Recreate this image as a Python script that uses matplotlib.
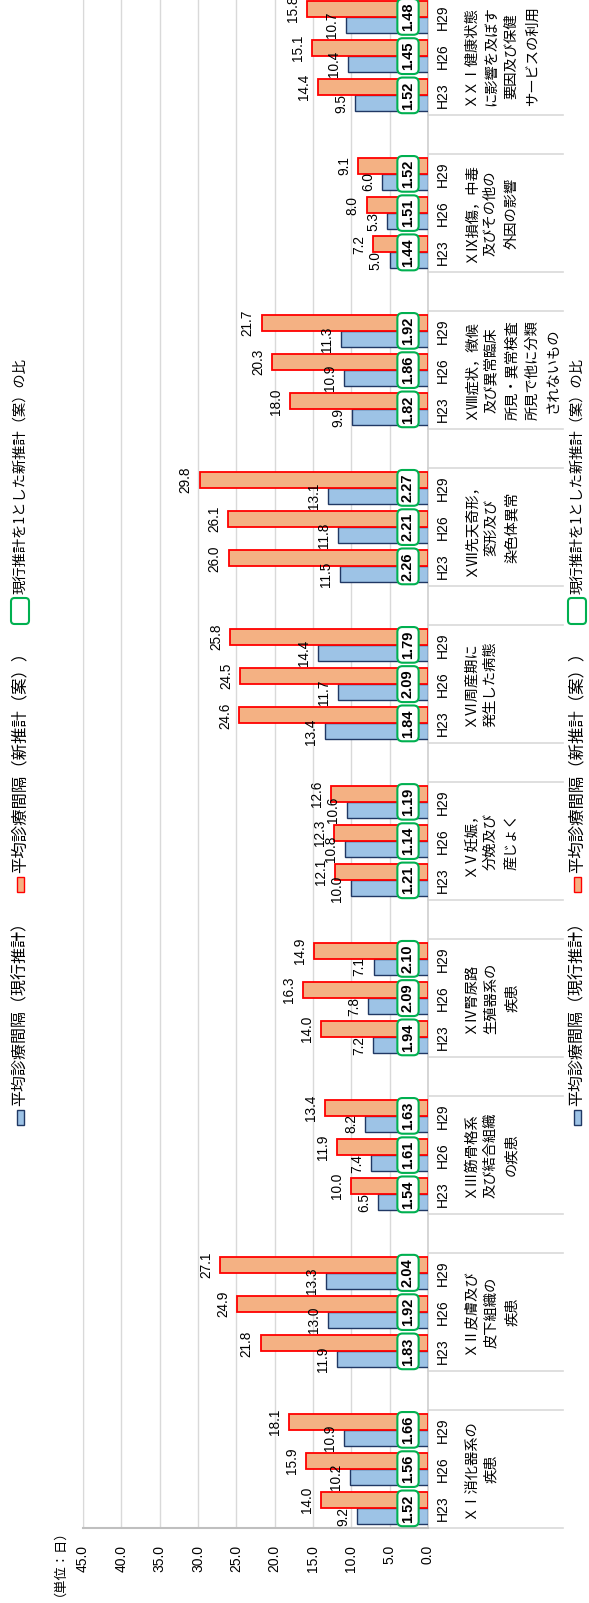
import numpy as np
import matplotlib
matplotlib.use('Agg')
from matplotlib import pyplot as plt
from matplotlib import transforms
from matplotlib.patches import Rectangle, FancyBboxPatch

plt.rcParams['font.family'] = ['Noto Sans CJK JP', 'DejaVu Sans']

# data: groups bottom -> top, years H23/H26/H29
groups = ['ＸⅠ消化器系の\n疾患',
          'ＸⅡ皮膚及び\n皮下組織の\n疾患',
          'ＸⅢ筋骨格系\n及び結合組織\nの疾患',
          'ＸⅣ腎尿路\n生殖器系の\n疾患',
          'ＸⅤ妊娠，\n分娩及び\n産じょく',
          'ＸⅥ周産期に\n発生した病態',
          'ＸⅦ先天奇形，\n変形及び\n染色体異常',
          'ＸⅧ症状，徴候\n及び異常臨床\n所見・異常検査\n所見で他に分類\nされないもの',
          'ＸⅨ損傷，中毒\n及びその他の\n外因の影響',
          'ＸＸⅠ健康状態\nに影響を及ぼす\n要因及び保健\nサービスの利用']
years = ['H23', 'H26', 'H29']
current = [[9.2, 10.2, 10.9], [11.9, 13.0, 13.3], [6.5, 7.4, 8.2], [7.2, 7.8, 7.1],
           [10.0, 10.8, 10.6], [13.4, 11.7, 14.4], [11.5, 11.8, 13.1], [9.9, 10.9, 11.3],
           [5.0, 5.3, 6.0], [9.5, 10.4, 10.7]]
new = [[14.0, 15.9, 18.1], [21.8, 24.9, 27.1], [10.0, 11.9, 13.4], [14.0, 16.3, 14.9],
       [12.1, 12.3, 12.6], [24.6, 24.5, 25.8], [26.0, 26.1, 29.8], [18.0, 20.3, 21.7],
       [7.2, 8.0, 9.1], [14.4, 15.1, 15.8]]
ratio = [[1.52, 1.56, 1.66], [1.83, 1.92, 2.04], [1.54, 1.61, 1.63], [1.94, 2.09, 2.10],
         [1.21, 1.14, 1.19], [1.84, 2.09, 1.79], [2.26, 2.21, 2.27], [1.82, 1.86, 1.92],
         [1.44, 1.51, 1.52], [1.52, 1.45, 1.48]]
legend_labels = ['平均診療間隔（現行推計）', '平均診療間隔（新推計（案））', '現行推計を1とした新推計（案）の比']
xticks = np.arange(0, 46, 5)

W, H = 589, 1603
def fx(px):
    return px / W
def fy(py):
    return 1 - py / H

BLUE, BLUE_E = '#9DC3E6', '#203864'
ORANGE, ORANGE_E = '#F4B183', '#FF0000'
GREEN = '#00B050'
GRID = '#D9D9D9'
NUMFONT = 'Liberation Sans'

fig = plt.figure(figsize=(W / 100, H / 100), dpi=100)
ax = fig.add_axes([fx(83), fy(1528), fx(428) - fx(83), 1528 / H])

# slot positions: 3 years per group plus one blank slot
pos = np.array([4 * g + k for g in range(len(groups)) for k in range(3)], dtype=float)
cur = np.array(current).ravel()
nw = np.array(new).ravel()
rt = np.array(ratio).ravel()

bh = 0.41
ax.barh(pos - bh / 2, cur, height=bh, color=BLUE, edgecolor=BLUE_E, lw=1.0, zorder=3)
ax.barh(pos + bh / 2, nw, height=bh, color=ORANGE, edgecolor=ORANGE_E, lw=1.3, zorder=3)

ax.set_xlim(45, 0)
ax.set_ylim(-0.5, -0.5 + 1528 / 39.25)
ax.set_xticks(xticks)
ax.set_xticklabels([f'{v:.1f}' for v in xticks], rotation=90, family=NUMFONT, fontsize=10)
ax.tick_params(axis='x', length=0, pad=12)
ax.set_yticks([])
ax.grid(axis='x', color=GRID, lw=1.0, zorder=0)
ax.spines['top'].set_visible(False)
ax.spines['left'].set_color(GRID)
ax.spines['right'].set_color('#D0D0D0')
ax.spines['right'].set_linewidth(1.2)
ax.spines['bottom'].set_color('#BFBFBF')
ax.spines['bottom'].set_linewidth(1.5)

# value labels
for p, v in zip(pos, cur):
    ax.annotate(f'{v:.1f}', xy=(v, p - bh / 2), xytext=(-14, 0), textcoords='offset pixels',
                rotation=90, ha='center', va='center', family=NUMFONT, fontsize=9.8, zorder=5)
for p, v in zip(pos, nw):
    ax.annotate(f'{v:.1f}', xy=(v, p + bh / 2), xytext=(-14, 0), textcoords='offset pixels',
                rotation=90, ha='center', va='center', family=NUMFONT, fontsize=9.8, zorder=5)
for p, r in zip(pos, rt):
    ax.annotate(f'{r:.2f}', xy=(0, p), xytext=(-20, 0), textcoords='offset pixels',
                rotation=90, ha='center', va='center', family=NUMFONT, fontsize=10.5,
                fontweight='bold', zorder=6,
                bbox=dict(boxstyle='round,pad=0.25,rounding_size=0.35', fc='white',
                          ec=GREEN, lw=1.5))

# category table on the right
trans = transforms.blended_transform_factory(fig.transFigure, ax.transData)
for g, name in enumerate(groups):
    for yy in (4 * g - 0.5, 4 * g + 2.5):
        ax.plot([fx(428), fx(563)], [yy, yy], transform=trans, color=GRID, lw=1.2,
                clip_on=False, zorder=1)
    for k, yr in enumerate(years):
        ax.text(fx(443), 4 * g + k, yr, transform=trans, rotation=90, ha='center',
                va='center', fontsize=10, family=NUMFONT)
    ax.text(fx(463), 4 * g + 1, name, transform=trans, rotation=90, ha='left', va='center',
            multialignment='center', fontsize=10.3, linespacing=1.62)

fig.text(fx(53), fy(1556), '（単位：日）', rotation=90, ha='center', va='center', fontsize=9.5)

# legends (left and right copies)
for lx in (20, 577):
    fig.add_artist(Rectangle((fx(lx - 3.5), fy(1125)), 7 / W, 15 / H, transform=fig.transFigure,
                             fc=BLUE, ec=BLUE_E, lw=1.0))
    fig.text(fx(lx), fy(1106), legend_labels[0], rotation=90, ha='center', va='bottom', fontsize=11.5)
    fig.add_artist(Rectangle((fx(lx - 3.5), fy(892)), 7 / W, 15 / H, transform=fig.transFigure,
                             fc=ORANGE, ec=ORANGE_E, lw=1.0))
    fig.text(fx(lx), fy(873), legend_labels[1], rotation=90, ha='center', va='bottom', fontsize=11.8)
    fig.add_artist(FancyBboxPatch((fx(lx - 9), fy(624)), 18 / W, 26 / H,
                                  boxstyle='round,pad=0,rounding_size=0.006',
                                  mutation_aspect=W / H, transform=fig.transFigure,
                                  fc='white', ec=GREEN, lw=1.5))
    fig.text(fx(lx), fy(594), legend_labels[2], rotation=90, ha='center', va='bottom', fontsize=10.3)

fig.savefig('out.png', dpi=100, facecolor='white')
